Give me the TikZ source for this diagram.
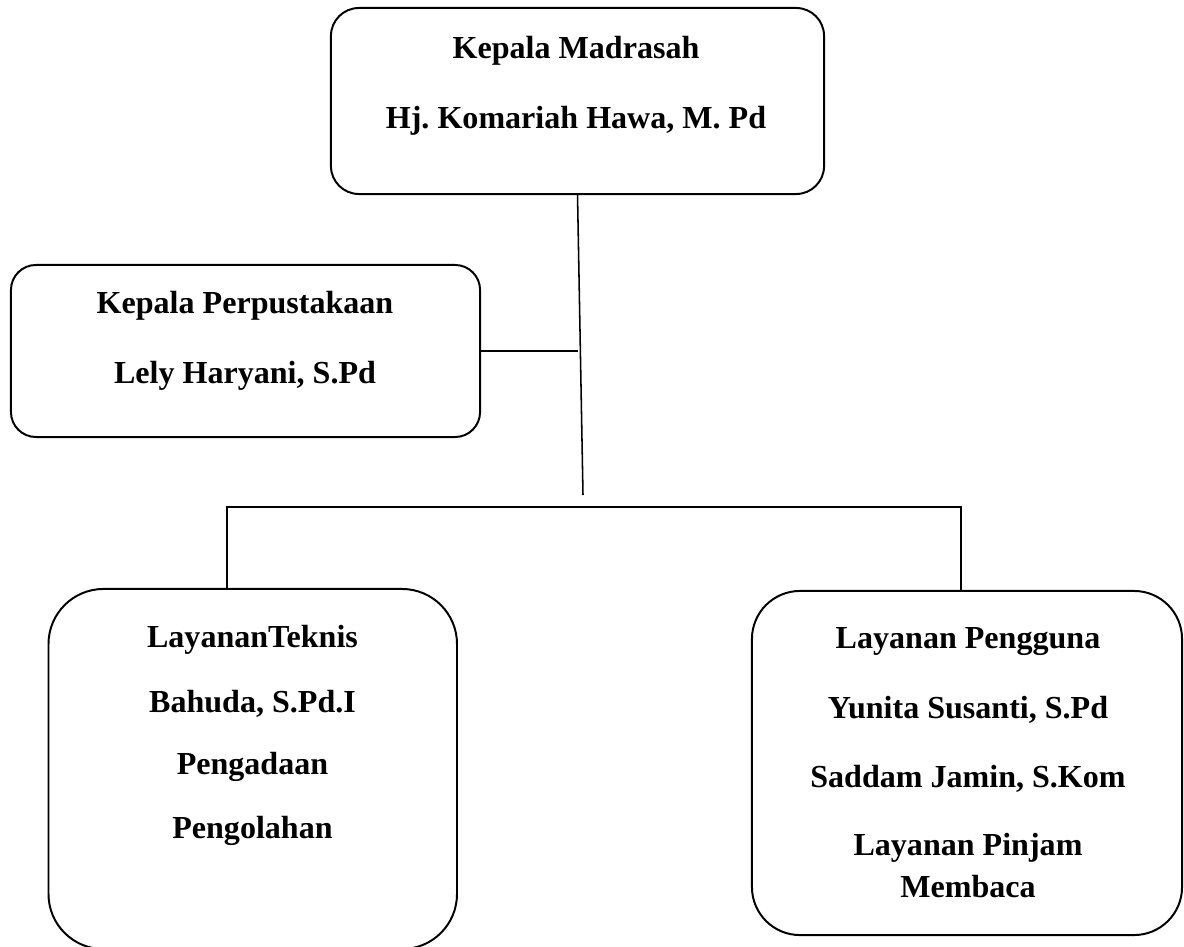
\documentclass[tikz,border=0pt]{standalone}
\usepackage{fontspec}
\setmainfont{Liberation Serif}
\usepackage{tikz}
\usetikzlibrary{calc}
\frenchspacing

\tikzset{
	box/.style={draw,line width=1.4pt,inner sep=0pt,outer sep=0pt},
	lbl/.style={anchor=base,inner sep=0pt,font=\fontsize{22.8}{27}\selectfont\bfseries},
	conn/.style={line width=1.1pt}
}

\begin{document}
\begin{tikzpicture}[x=0.025cm,y=-0.025cm]
	\useasboundingbox (0,0) rectangle (1184,947);
	% boxes
	\node[box,rounded corners=0.7cm,minimum width=12.325cm,minimum height=4.65cm] (kamad) at (577.5,101) {};
	\node[box,rounded corners=0.625cm,minimum width=11.725cm,minimum height=4.3cm] (kaperpus) at (245.5,351) {};
	\node[box,rounded corners=1.375cm,minimum width=10.21cm,minimum height=9cm] (teknis) at (252.75,769) {};
	\node[box,rounded corners=1.2cm,minimum width=10.75cm,minimum height=8.6cm] (pengguna) at (967,763) {};
	% texts
	\node[lbl] (kamad1) at (576,58) {Kepala Madrasah};
	\node[lbl] (kamad2) at (576,128) {Hj. Komariah Hawa, M. Pd};
	\node[lbl] (kaperpus1) at (245,313) {Kepala Perpustakaan};
	\node[lbl] (kaperpus2) at (245,383) {Lely Haryani, S.Pd};
	\node[lbl] (teknis1) at (252.5,647) {LayananTeknis};
	\node[lbl] (teknis2) at (252.5,712) {Bahuda, S.Pd.I};
	\node[lbl] (teknis3) at (252.5,774) {Pengadaan};
	\node[lbl] (teknis4) at (252.5,838) {Pengolahan};
	\node[lbl] (pengguna1) at (968,648) {Layanan Pengguna};
	\node[lbl] (pengguna2) at (968,718) {Yunita Susanti, S.Pd};
	\node[lbl] (pengguna3) at (968,787) {Saddam Jamin, S.Kom};
	\node[lbl] (pengguna4) at (968,855) {Layanan Pinjam};
	\node[lbl] (pengguna5) at (968,897) {Membaca};
	% connectors
	\coordinate (trunkend) at (583,495);
	\coordinate (busleft) at (227,507);
	\coordinate (busright) at (961,507);
	\draw[conn] (kamad.south) -- (trunkend);
	\draw[conn] (kaperpus.east) -- (kaperpus.east -| kamad.south);
	\draw[conn] (teknis.north -| busleft) -- (busleft) -- (busright) -- (pengguna.north -| busright);
\end{tikzpicture}
\end{document}
